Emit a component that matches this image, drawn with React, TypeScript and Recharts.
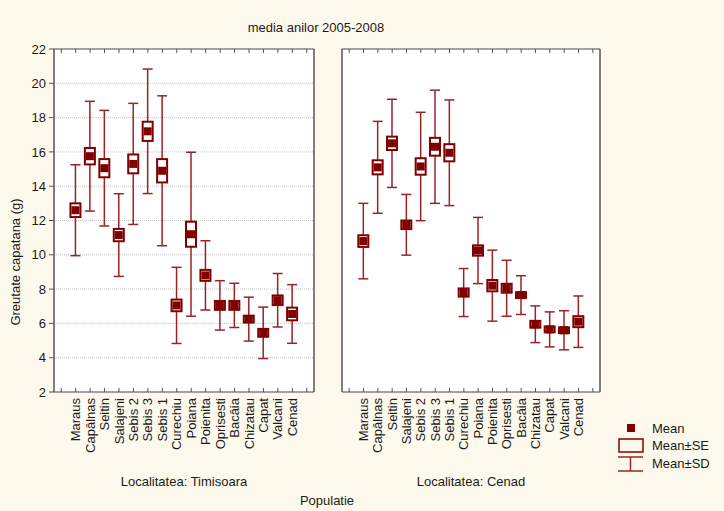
import {
  ComposedChart,
  Bar,
  XAxis,
  YAxis,
  CartesianGrid,
  ReferenceLine,
} from 'recharts'

const CATEGORIES = [
  'Maraus', 'Capâlnas', 'Seitin', 'Salajeni', 'Sebis 2', 'Sebis 3', 'Sebis 1', 'Curechiu',
  'Poiana', 'Poienita', 'Oprisesti', 'Bacâia', 'Chizatau', 'Capat', 'Valcani', 'Cenad',
]

const TIM_MEAN = [12.6, 15.75, 15.05, 11.15, 15.3, 17.2, 14.9, 7.05, 11.2, 8.8, 7.05, 7.05, 6.25, 5.45, 7.35, 6.55]
const TIM_SE = [0.4, 0.48, 0.53, 0.36, 0.55, 0.56, 0.68, 0.34, 0.73, 0.32, 0.26, 0.26, 0.2, 0.23, 0.28, 0.37]
const TIM_SD = [2.65, 3.2, 3.37, 2.41, 3.53, 3.63, 4.37, 2.22, 4.78, 2.02, 1.44, 1.29, 1.28, 1.5, 1.56, 1.71]

const CEN_MEAN = [10.8, 15.1, 16.5, 11.75, 15.15, 16.3, 15.95, 7.8, 10.25, 8.2, 8.05, 7.65, 5.95, 5.65, 5.6, 6.1]
const CEN_SE = [0.34, 0.41, 0.39, 0.25, 0.48, 0.52, 0.5, 0.24, 0.3, 0.33, 0.26, 0.17, 0.2, 0.17, 0.17, 0.32]
const CEN_SD = [2.2, 2.68, 2.57, 1.77, 3.16, 3.3, 3.08, 1.4, 1.93, 2.07, 1.63, 1.13, 1.07, 1.02, 1.14, 1.5]

const Y_TICKS = [2, 4, 6, 8, 10, 12, 14, 16, 18, 20, 22]

const FONT = '"Liberation Sans", Arial, sans-serif'
const BG = '#fdf9ec'
const AXIS = '#555'
const DARK_RED = '#800000'
const WHISKER = '#9a2424'
const PLOT_TOP = 49

// one empty slot at each end, like the original plot
function toRows(mean: number[], se: number[], sd: number[]) {
  const rows: any[] = [{ key: '__start' }]
  CATEGORIES.forEach((c, i) => {
    rows.push({ key: c, mean: mean[i], se: se[i], sd: sd[i], sdRange: [mean[i] - sd[i], mean[i] + sd[i]] })
  })
  rows.push({ key: '__end' })
  return rows
}

function CatTick(props: any) {
  const { x, y, payload } = props
  const label = String(payload.value).startsWith('__') ? '' : payload.value
  const lx = x + 4.5
  const ly = y + 6
  return (
    <g>
      <line x1={x} y1={y} x2={x} y2={y - 4} stroke={AXIS} />
      <line x1={x} y1={PLOT_TOP} x2={x} y2={PLOT_TOP + 4} stroke={AXIS} />
      {label && (
        <text
          x={lx}
          y={ly}
          transform={`rotate(-90 ${lx} ${ly})`}
          textAnchor="end"
          fontSize={13}
          fontFamily={FONT}
          fill="#1a1a1a"
        >
          {label}
        </text>
      )}
    </g>
  )
}

// whisker (mean±SD) from the bar's own pixel range, then SE box and mean square
function MeanSeSd(props: any) {
  const { x, y, width, height, payload } = props
  if (!payload || payload.sd == null || height == null || isNaN(height)) return <g />
  const top = Math.min(y, y + height)
  const h = Math.abs(height)
  const k = h / (2 * payload.sd)
  const cx = x + width / 2
  const cy = top + h / 2
  const seH = payload.se * k
  return (
    <g>
      <g stroke={WHISKER} strokeWidth={1.5}>
        <line x1={cx} y1={top} x2={cx} y2={top + h} />
        <line x1={x} y1={top} x2={x + width} y2={top} />
        <line x1={x} y1={top + h} x2={x + width} y2={top + h} />
      </g>
      <rect x={cx - 5} y={cy - seH} width={10} height={2 * seH} fill="#fff" stroke={DARK_RED} strokeWidth={2} />
      <rect x={cx - 4} y={cy - 4} width={8} height={8} fill={DARK_RED} />
    </g>
  )
}

interface PanelProps {
  mean: number[]
  se: number[]
  sd: number[]
  showLabels: boolean
  left: number
  width: number
  margin: { top: number; right: number; bottom: number; left: number }
}

function Panel({ mean, se, sd, showLabels, left, width, margin }: PanelProps) {
  const rows = toRows(mean, se, sd)
  return (
    <div style={{ position: 'absolute', left, top: 0 }}>
      <ComposedChart width={width} height={511} data={rows} margin={margin}>
        <CartesianGrid vertical={false} stroke="#c4c4c4" strokeDasharray="1 1" fill="#fff" fillOpacity={1} />
        <XAxis
          dataKey="key"
          allowDuplicatedCategory={false}
          interval={0}
          height={100}
          tickSize={0}
          tickMargin={0}
          tickLine={false}
          axisLine={{ stroke: AXIS }}
          tick={<CatTick />}
        />
        {showLabels ? (
          <YAxis
            domain={[2, 22]}
            ticks={Y_TICKS}
            width={30}
            tickSize={5}
            tickMargin={3}
            tickLine={{ stroke: AXIS }}
            axisLine={{ stroke: AXIS, strokeWidth: 1.5 }}
            tick={{ fontSize: 13, fontFamily: FONT, fill: '#1a1a1a' }}
          />
        ) : (
          <YAxis
            domain={[2, 22]}
            ticks={Y_TICKS}
            mirror
            tickSize={4}
            tick={false}
            tickLine={{ stroke: AXIS }}
            axisLine={{ stroke: AXIS, strokeWidth: 1.5 }}
          />
        )}
        <YAxis
          yAxisId="r"
          orientation="right"
          domain={[2, 22]}
          allowDataOverflow
          ticks={Y_TICKS}
          mirror
          tickSize={4}
          tick={false}
          tickLine={{ stroke: AXIS }}
          axisLine={{ stroke: AXIS, strokeWidth: 1.5 }}
        />
        <ReferenceLine y={22} stroke={AXIS} strokeWidth={1} />
        <Bar dataKey="sdRange" barSize={10} shape={<MeanSeSd />} isAnimationActive={false} />
      </ComposedChart>
    </div>
  )
}

export default function App() {
  return (
    <div style={{ position: 'relative', width: 724, height: 511, background: BG, overflow: 'hidden', fontFamily: FONT }}>
      <style>{'body{margin:0}'}</style>
      <Panel
        mean={TIM_MEAN}
        se={TIM_SE}
        sd={TIM_SD}
        showLabels
        left={0}
        width={330}
        margin={{ top: PLOT_TOP, right: 16, bottom: 19, left: 24 }}
      />
      <Panel
        mean={CEN_MEAN}
        se={CEN_SE}
        sd={CEN_SD}
        showLabels={false}
        left={330}
        width={290}
        margin={{ top: PLOT_TOP, right: 20, bottom: 19, left: 12 }}
      />
      <svg width={724} height={511} style={{ position: 'absolute', left: 0, top: 0, pointerEvents: 'none' }}>
        <g fontFamily={FONT} fontSize={13} fill="#1a1a1a">
          <text x={316} y={32} textAnchor="middle">media anilor 2005-2008</text>
          <text x={20} y={262} textAnchor="middle" transform="rotate(-90 20 262)">Greutate capatana (g)</text>
          <text x={184} y={486} textAnchor="middle">Localitatea: Timisoara</text>
          <text x={471} y={486} textAnchor="middle">Localitatea: Cenad</text>
          <text x={327} y={505} textAnchor="middle">Populatie</text>
          <text x={652} y={433}>Mean</text>
          <text x={652} y={450}>Mean±SE</text>
          <text x={652} y={468}>Mean±SD</text>
        </g>
        <rect x={627} y={424} width={8} height={8} fill={DARK_RED} />
        <rect x={619} y={439} width={24} height={13} fill="none" stroke={DARK_RED} strokeWidth={1.5} />
        <g stroke={WHISKER} strokeWidth={1.5}>
          <line x1={618} y1={457} x2={643} y2={457} />
          <line x1={630.5} y1={457} x2={630.5} y2={471} />
          <line x1={618} y1={471} x2={643} y2={471} />
        </g>
      </svg>
    </div>
  )
}
